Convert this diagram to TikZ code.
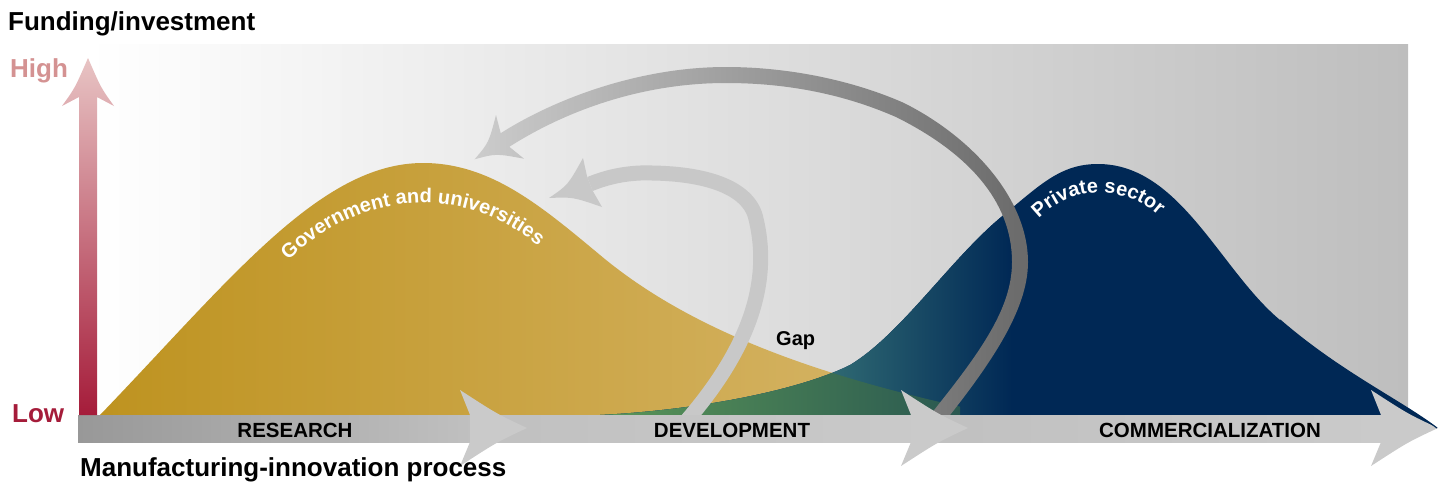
\documentclass[tikz,border=0pt]{standalone}
\usepackage{fontspec}
\setmainfont{Liberation Sans}
\usetikzlibrary{decorations.text}
\definecolor{govgold}{RGB}{190,147,32}
\definecolor{govgoldlight}{RGB}{216,184,110}
\definecolor{privnavy}{RGB}{0,40,85}
\definecolor{privteal}{RGB}{46,104,114}
\definecolor{mixgreen}{RGB}{90,150,88}
\definecolor{mixgreendark}{RGB}{42,88,80}
\definecolor{highpink}{RGB}{212,146,146}
\definecolor{lowred}{RGB}{165,28,58}
\definecolor{arrowtop}{RGB}{232,196,196}
\definecolor{loopdark}{RGB}{106,106,106}
\definecolor{looplight}{RGB}{204,204,204}
\definecolor{loopgray}{RGB}{200,200,200}
\definecolor{barlight}{RGB}{202,202,202}
\definecolor{bargray}{RGB}{192,192,192}
\definecolor{bardark}{RGB}{152,152,152}
\definecolor{bgright}{RGB}{190,190,190}
\newcommand{\curvefont}{\bfseries\fontsize{20}{24}\selectfont}
% outlines of the two funding hills
\def\goldhill{(100,415) .. controls (230,280) and (320,163) .. (423,163)
  .. controls (490,163) and (540,205) .. (600,255)
  .. controls (680,322) and (800,375) .. (1000,415) -- cycle}
\def\bluehill{(600,415) .. controls (700,410) and (800,390) .. (850,365)
  .. controls (900,335) and (950,260) .. (1000,218)
  .. controls (1040,185) and (1060,164) .. (1098,164)
  .. controls (1180,164) and (1220,270) .. (1280,320)
  .. controls (1340,372) and (1400,400) .. (1437,428)
  -- (1380,428) -- (1380,415) -- cycle}
\begin{document}
\begin{tikzpicture}[x=1pt,y=-1pt,
  biglabel/.style={font=\bfseries\fontsize{26}{30}\selectfont,inner sep=0pt,anchor=base west},
  stagelabel/.style={font=\bfseries\fontsize{20.5}{24}\selectfont,inner sep=0pt,anchor=base},
  curvelabel/.style={decorate,decoration={text along path,text align=center,
    text color=white,text={|\curvefont|#1}}}]
\useasboundingbox (0,0) rectangle (1445,485);
% background
\shade[left color=white,right color=bgright] (88,44) rectangle (1408,415);
% government and universities
\shade[left color=govgold,right color=govgoldlight] \goldhill;
% private sector
\fill[privnavy] \bluehill;
\begin{scope}
\clip \bluehill;
\fill[privteal] (590,150) rectangle (835,430);
\shade[left color=privteal,right color=privnavy] (834,150) rectangle (1012,430);
\end{scope}
% overlap of the two hills
\begin{scope}
\clip \goldhill;
\clip \bluehill;
\shade[left color=mixgreen,right color=mixgreendark] (600,300) rectangle (960,430);
\end{scope}
% outer loop back to research
\shade[left color=looplight,right color=loopdark]
  (934,435) .. controls (991,365) and (1028,310) .. (1028,262)
  .. controls (1028,200) and (973.6,137.8) .. (903.6,102.8)
  .. controls (853.6,80.8) and (790,67) .. (726,67)
  .. controls (640,67) and (555.7,98.2) .. (500.7,133.2)
  -- (496,115) .. controls (488.8,142.6) .. (474.6,159.3)
  .. controls (495.8,153.5) .. (524,158.7) -- (509.3,146.8)
  .. controls (564.3,111.8) and (640,83) .. (726,83)
  .. controls (790,83) and (846.4,95.2) .. (896.4,117.2)
  .. controls (966.4,152.2) and (1012,200) .. (1012,262)
  .. controls (1012,310) and (978.8,354.9) .. (922,425) -- cycle;
% inner loop across the gap
\draw[loopgray,line width=15pt] (683,425) .. controls (740,360) and (775,290) .. (755,215)
  .. controls (745,185) and (700,172) .. (640,173)
  .. controls (620,174) and (605,178) .. (590,184);
\fill[loopgray] (587.2,177) -- (583,158) .. controls (568,185) .. (549,198)
  .. controls (573,197) .. (602,207) -- (592.8,191) -- cycle;
% labels on the hills
\path[curvelabel={Government and universities}] (266,284) .. controls (345,188) and (470,170) .. (562,268);
\path[curvelabel={Private sector}] (1028,232) .. controls (1060,183) and (1130,178) .. (1170,228);
% process bar
\shade[left color=bardark,right color=bargray] (78,415) rectangle (472,442);
\shade[left color=bargray,right color=bargray!85!white] (470,415) rectangle (914,442);
\shade[left color=bargray,right color=barlight] (912,415) rectangle (1384,442);
\foreach \tip in {527,968,1438}
  \fill[barlight] (\tip-57,415) -- (\tip-67,390) .. controls (\tip-30,414) .. (\tip,428)
    .. controls (\tip-30,442) .. (\tip-67,466) -- (\tip-57,442) -- cycle;
% tail of private sector
\draw[privnavy,line width=1.2pt] (1280,320) .. controls (1340,372) and (1400,400) .. (1437,428);
% funding axis
\shade[top color=arrowtop,bottom color=lowred] (79,415) -- (79,97) -- (62,106)
  .. controls (75,88) .. (88,58) .. controls (101,88) .. (114,106) -- (97,97) -- (97,415) -- cycle;
% texts
\node[biglabel] (title) at (8,30) {Funding/investment};
\node[biglabel,text=highpink] (high) at (10,77) {High};
\node[biglabel,text=lowred] (low) at (12,422) {Low};
\node[biglabel] (process) at (80,476) {Manufacturing-innovation process};
\node[stagelabel] (research) at (295,437) {RESEARCH};
\node[stagelabel] (development) at (732,437) {DEVELOPMENT};
\node[stagelabel] (commercial) at (1210,437) {COMMERCIALIZATION};
\node[font=\bfseries\fontsize{20}{24}\selectfont,inner sep=0pt,anchor=base west] (gap) at (776,345) {Gap};
\end{tikzpicture}
\end{document}
